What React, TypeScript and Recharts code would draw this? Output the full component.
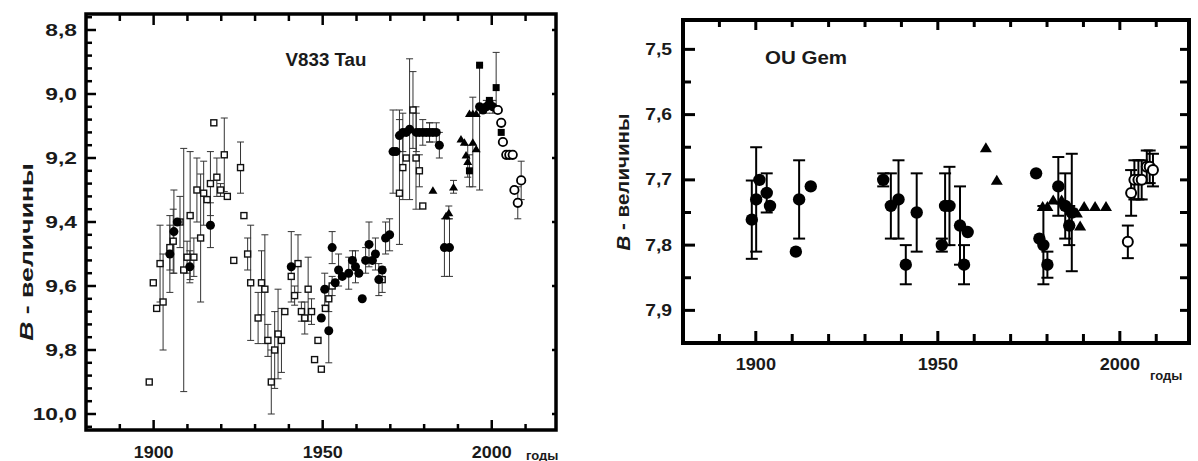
import React from 'react';
import { ScatterChart, Scatter, XAxis, YAxis, ErrorBar } from 'recharts';

type Err = number | [number, number];
type Pt = [number, number, Err];

// V833 Tau: [year, B mag, error]
const tauOpenSquares: Pt[] = [
  [1898.7, 9.9, 0], [1899.9, 9.59, 0], [1900.9, 9.67, 0], [1901.9, 9.53, 0.12],
  [1902.8, 9.65, 0.15], [1904.8, 9.48, 0.07], [1905.8, 9.46, 0.1], [1907.8, 9.4, 0.08],
  [1908.9, 9.55, 0.38], [1909.9, 9.51, 0.05], [1910.8, 9.38, 0.2], [1911.9, 9.51, 0.06],
  [1912.8, 9.3, 0.1], [1913.9, 9.45, 0.2], [1914.8, 9.31, 0.1], [1915.8, 9.33, 0],
  [1916.8, 9.28, 0.1], [1917.8, 9.09, 0], [1918.7, 9.26, 0.06], [1919.8, 9.3, 0.02],
  [1920.9, 9.19, 0.115], [1921.8, 9.32, 0], [1923.7, 9.52, 0], [1925.7, 9.23, 0.08],
  [1926.7, 9.38, 0], [1927.8, 9.5, 0.05], [1928.7, 9.59, 0.18], [1930.9, 9.7, 0.08],
  [1931.9, 9.59, 0.1], [1932.9, 9.61, 0.17], [1933.8, 9.77, 0.05], [1934.8, 9.9, 0.1],
  [1935.8, 9.8, 0.12], [1936.8, 9.75, 0.14], [1937.8, 9.77, 0.1], [1938.8, 9.68, 0],
  [1940.7, 9.57, 0], [1941.7, 9.63, 0.03], [1942.7, 9.53, 0.09], [1943.7, 9.68, 0.03],
  [1944.7, 9.7, 0.05], [1945.7, 9.61, 0.1], [1946.7, 9.68, 0.04], [1947.6, 9.83, 0],
  [1948.6, 9.77, 0], [1949.6, 9.86, 0], [1950.8, 9.67, 0], [1951.8, 9.64, 0.04],
  [1952.8, 9.6, 0.03], [1967.6, 9.58, 0.04], [1972.7, 9.31, [0.26, 0.16]],
  [1973.7, 9.23, 0.1], [1974.7, 9.2, 0], [1976.7, 9.05, 0.12], [1977.6, 9.2, 0.16],
  [1978.6, 9.24, 0.05], [1979.6, 9.35, 0], [1981.6, 9.12, 0.03],
];

const tauCircles: Pt[] = [
  [1904.8, 9.5, 0.12], [1906.0, 9.43, 0.13], [1907.0, 9.4, 0], [1910.7, 9.54, 0.05],
  [1916.8, 9.41, 0.07], [1940.7, 9.54, 0.11], [1949.6, 9.7, 0], [1950.6, 9.61, 0.05],
  [1951.8, 9.74, 0.1], [1952.8, 9.48, 0.05], [1953.7, 9.59, 0], [1954.7, 9.55, 0.05],
  [1955.8, 9.57, 0], [1957.7, 9.56, 0.05], [1958.8, 9.52, 0.03], [1959.7, 9.54, 0.05],
  [1960.7, 9.56, 0], [1961.7, 9.64, 0], [1962.7, 9.52, 0.04], [1963.7, 9.47, 0.07],
  [1964.7, 9.52, 0], [1965.6, 9.5, 0.05], [1966.6, 9.58, 0.05], [1967.6, 9.55, 0],
  [1968.6, 9.45, 0.05], [1969.8, 9.44, 0.05], [1970.8, 9.18, 0.13], [1971.7, 9.18, 0],
  [1972.7, 9.13, 0.05], [1973.7, 9.12, 0.06], [1974.7, 9.12, 0], [1975.7, 9.11, 0.22],
  [1977.7, 9.12, 0.06], [1978.6, 9.12, 0], [1979.6, 9.12, 0.04], [1980.6, 9.12, 0],
  [1981.6, 9.12, 0.03], [1982.6, 9.12, 0], [1983.6, 9.12, 0.03], [1984.5, 9.16, 0.04],
  [1986.0, 9.48, 0.09], [1987.5, 9.48, 0.09], [1996.4, 9.04, 0], [1997.4, 9.05, 0],
  [1998.4, 9.04, 0.02], [1999.3, 9.03, 0], [2000.3, 9.04, 0.02],
];

const tauTriangles: Pt[] = [
  [1982.6, 9.3, 0], [1986.5, 9.38, 0], [1987.3, 9.37, 0.02], [1988.7, 9.29, 0.02],
  [1990.9, 9.14, 0], [1991.9, 9.15, 0], [1992.4, 9.19, 0], [1992.9, 9.21, 0.05],
  [1993.4, 9.06, 0], [1994.4, 9.06, 0], [1994.4, 9.15, 0.14], [1995.4, 9.06, 0],
  [1995.4, 9.17, 0],
];

const tauFilledSquares: Pt[] = [
  [1993.4, 9.24, 0.05], [1996.4, 8.91, [0, 0.39]], [1999.3, 9.02, 0],
  [2001.3, 8.98, [0.11, 0.07]], [2002.8, 9.12, 0],
];

const tauOpenCircles: Pt[] = [
  [2001.8, 9.05, 0], [2002.8, 9.09, 0], [2003.3, 9.15, 0], [2004.3, 9.19, 0],
  [2005.2, 9.19, 0], [2006.2, 9.19, 0], [2006.7, 9.3, 0], [2007.7, 9.34, 0.05],
  [2008.7, 9.27, 0.06],
];

// OU Gem
const gemCircles: Pt[] = [
  [1898.9, 7.761, 0.06], [1900.1, 7.73, 0.08], [1901.0, 7.7, 0], [1903.0, 7.72, 0.03],
  [1903.9, 7.74, 0], [1911.0, 7.81, 0], [1911.9, 7.73, 0.06], [1915.1, 7.71, 0],
  [1935.0, 7.7, 0.01], [1937.1, 7.74, 0.05], [1939.2, 7.73, 0.06], [1941.2, 7.83, 0.03],
  [1944.2, 7.75, 0.06], [1951.1, 7.8, 0.01], [1952.0, 7.74, [0.05, 0.06]],
  [1953.2, 7.74, 0.06], [1956.1, 7.77, 0.06], [1957.2, 7.83, 0.03], [1958.2, 7.78, 0],
  [1977.0, 7.69, 0], [1977.9, 7.79, 0], [1979.0, 7.8, 0.06], [1980.1, 7.83, 0.02],
  [1983.1, 7.71, 0.045], [1985.0, 7.74, 0.05], [1986.1, 7.77, 0.03], [1986.8, 7.75, 0.09],
];

const gemTriangles: Pt[] = [
  [1963.2, 7.65, 0], [1966.2, 7.7, 0], [1978.8, 7.74, 0], [1980.1, 7.74, 0],
  [1981.7, 7.73, 0], [1984.0, 7.73, 0], [1988.2, 7.75, 0], [1989.1, 7.77, 0],
  [1990.2, 7.74, 0], [1993.2, 7.74, 0], [1996.2, 7.74, 0],
];

const gemOpenCircles: Pt[] = [
  [2002.2, 7.795, 0.025], [2003.1, 7.72, 0.035], [2004.0, 7.7, 0.03], [2005.1, 7.7, 0.03],
  [2006.0, 7.7, 0.03], [2007.4, 7.68, 0.025], [2008.2, 7.68, 0.025], [2009.1, 7.685, 0.025],
];

const yearTicks = [1890, 1900, 1910, 1920, 1930, 1940, 1950, 1960, 1970, 1980, 1990, 2000, 2010];
const yearLabels = [1900, 1950, 2000];
const tauMagLabels = [8.8, 9.0, 9.2, 9.4, 9.6, 9.8, 10.0];
const gemMagLabels = [7.5, 7.6, 7.7, 7.8, 7.9];

const tauMagTicks = Array.from({ length: 33 }, (_, i) => +(8.76 + i * 0.04).toFixed(2));
const gemMagTicks = Array.from({ length: 9 }, (_, i) => +(7.5 + i * 0.05).toFixed(2));

const rows = (pts: Pt[]) => pts.map(([year, mag, err]) => ({ year, mag, err: err || null }));

const FONT = '"Liberation Sans", Arial, sans-serif';
const INK = '#1a1a1a';

const has = (arr: number[], v: number) => arr.some((a) => Math.abs(a - v) < 1e-6);
const fmt = (v: number) => v.toFixed(1).replace('.', ',');

const SText = ({ x, y, sx = 1, size, anchor = 'middle', rotate = 0, children }: any) => (
  <g transform={`translate(${x},${y}) rotate(${rotate}) scale(${sx},1)`}>
    <text textAnchor={anchor} dominantBaseline="central" fontSize={size} fontWeight="bold" fontFamily={FONT} fill={INK}>
      {children}
    </text>
  </g>
);

// marker shapes
const OpenSquare = ({ cx, cy }: any) => (
  <rect x={cx - 3} y={cy - 3} width={6} height={6} fill="#fff" stroke="#111" strokeWidth={1.4} />
);
const Dot = (r: number) => ({ cx, cy }: any) => <circle cx={cx} cy={cy} r={r} fill="#000" />;
const Ring = (r: number, w: number) => ({ cx, cy }: any) => (
  <circle cx={cx} cy={cy} r={r} fill="#fff" stroke="#000" strokeWidth={w} />
);
const Tri = (w: number, h: number) => ({ cx, cy }: any) => (
  <polygon points={`${cx - w / 2},${cy + h / 2} ${cx + w / 2},${cy + h / 2} ${cx},${cy - h / 2}`} fill="#000" />
);
const FilledSquare = ({ cx, cy }: any) => <rect x={cx - 3.5} y={cy - 3.5} width={7} height={7} fill="#000" />;

// axis labels from the chart's own tick positions
const leftLabel = (labels: number[], gap: number, sx: number) => (p: any) => {
  const v = p.payload.value;
  return has(labels, v) ? <SText x={p.x - gap} y={p.y} sx={sx} size={16.5} anchor="end">{fmt(v)}</SText> : <g />;
};
const bottomLabel = (dy: number, sx: number) => (p: any) => {
  const v = p.payload.value;
  return has(yearLabels, v) ? <SText x={p.x} y={p.y + dy} sx={sx} size={16.5}>{v}</SText> : <g />;
};

// plot boxes (pixel frames) matching the chart margins below
const tauBox = { l: 86, r: 556, t: 14, b: 430, x0: 1880, x1: 2019, y0: 8.75, y1: 10.05 };
const gemBox = { l: 683, r: 1189, t: 20, b: 343, x0: 1880, x1: 2019, y0: 7.455, y1: 7.95 };

function Frame({ box, yTicks, yMajors, rTicks, lMaj, lMin, rLen, bMaj, bMin, tMaj, tMin, tw, aw }: any) {
  const X = (v: number) => box.l + ((v - box.x0) / (box.x1 - box.x0)) * (box.r - box.l);
  const Y = (v: number) => box.t + ((v - box.y0) / (box.y1 - box.y0)) * (box.b - box.t);
  return (
    <g stroke="#000" strokeWidth={tw}>
      {yTicks.map((v: number) => (
        <line key={`l${v}`} x1={box.l} x2={box.l + (has(yMajors, v) ? lMaj : lMin)} y1={Y(v)} y2={Y(v)} />
      ))}
      {rTicks.map((v: number) => (
        <line key={`r${v}`} x1={box.r} x2={box.r - rLen} y1={Y(v)} y2={Y(v)} />
      ))}
      {yearTicks.map((yr) => (
        <g key={`x${yr}`}>
          <line x1={X(yr)} x2={X(yr)} y1={box.b} y2={box.b - (has(yearLabels, yr) ? bMaj : bMin)} />
          <line x1={X(yr)} x2={X(yr)} y1={box.t} y2={box.t + (has(yearLabels, yr) ? tMaj : tMin)} />
        </g>
      ))}
      <rect x={box.l} y={box.t} width={box.r - box.l} height={box.b - box.t} fill="none" strokeWidth={aw} />
    </g>
  );
}

function TauPanel() {
  const eb = { dataKey: 'err', direction: 'y' as const, width: 3.5, stroke: '#333', strokeWidth: 1 };
  return (
    <ScatterChart width={560} height={461} margin={{ top: 14, right: 4, bottom: 0, left: 26 }}>
      <XAxis xAxisId="b" dataKey="year" type="number" domain={[1880, 2019]} allowDataOverflow ticks={yearTicks}
        interval={0} height={31} tickSize={0} tickMargin={0} axisLine={false} tickLine={false} tick={bottomLabel(22, 1.09)} />
      <YAxis yAxisId="l" dataKey="mag" type="number" domain={[8.75, 10.05]} allowDataOverflow reversed ticks={tauMagTicks}
        interval={0} width={60} tickSize={0} tickMargin={0} axisLine={false} tickLine={false}
        tick={leftLabel(tauMagLabels, 9, 1.38)} />
      <Scatter xAxisId="b" yAxisId="l" data={rows(tauOpenSquares)} shape={OpenSquare} isAnimationActive={false}>
        <ErrorBar {...eb} />
      </Scatter>
      <Scatter xAxisId="b" yAxisId="l" data={rows(tauCircles)} shape={Dot(4.5)} isAnimationActive={false}>
        <ErrorBar {...eb} />
      </Scatter>
      <Scatter xAxisId="b" yAxisId="l" data={rows(tauTriangles)} shape={Tri(9, 7.5)} isAnimationActive={false}>
        <ErrorBar {...eb} />
      </Scatter>
      <Scatter xAxisId="b" yAxisId="l" data={rows(tauFilledSquares)} shape={FilledSquare} isAnimationActive={false}>
        <ErrorBar {...eb} />
      </Scatter>
      <Scatter xAxisId="b" yAxisId="l" data={rows(tauOpenCircles)} shape={Ring(4.2, 1.8)} isAnimationActive={false}>
        <ErrorBar {...eb} />
      </Scatter>
    </ScatterChart>
  );
}

function GemPanel() {
  const eb = { dataKey: 'err', direction: 'y' as const, width: 6, stroke: '#000', strokeWidth: 2 };
  return (
    <ScatterChart width={638} height={461} margin={{ top: 20, right: 9, bottom: 78, left: 63 }}>
      <XAxis xAxisId="b" dataKey="year" type="number" domain={[1880, 2019]} allowDataOverflow ticks={yearTicks}
        interval={0} height={40} tickSize={0} tickMargin={0} axisLine={false} tickLine={false} tick={bottomLabel(21, 1.1)} />
      <YAxis yAxisId="l" dataKey="mag" type="number" domain={[7.455, 7.95]} allowDataOverflow reversed ticks={gemMagTicks}
        interval={0} width={60} tickSize={0} tickMargin={0} axisLine={false} tickLine={false}
        tick={leftLabel(gemMagLabels, 11, 1.17)} />
      <Scatter xAxisId="b" yAxisId="l" data={rows(gemCircles)} shape={Dot(6.2)} isAnimationActive={false}>
        <ErrorBar {...eb} />
      </Scatter>
      <Scatter xAxisId="b" yAxisId="l" data={rows(gemTriangles)} shape={Tri(12, 10)} isAnimationActive={false}>
        <ErrorBar {...eb} />
      </Scatter>
      <Scatter xAxisId="b" yAxisId="l" data={rows(gemOpenCircles)} shape={Ring(5, 2)} isAnimationActive={false}>
        <ErrorBar {...eb} />
      </Scatter>
    </ScatterChart>
  );
}

export default function App() {
  return (
    <div style={{ position: 'absolute', left: 0, top: 0, width: 1198, height: 461, background: '#fff' }}>
      <div style={{ position: 'absolute', left: 0, top: 0 }}>
        <TauPanel />
      </div>
      <div style={{ position: 'absolute', left: 560, top: 0 }}>
        <GemPanel />
      </div>
      <svg width={1198} height={461} style={{ position: 'absolute', left: 0, top: 0, pointerEvents: 'none' }}>
        <Frame box={tauBox} yTicks={tauMagTicks} yMajors={tauMagLabels} rTicks={tauMagLabels}
          lMaj={10} lMin={6} rLen={4} bMaj={10} bMin={6} tMaj={11} tMin={7} tw={2.5} aw={3.5} />
        <Frame box={gemBox} yTicks={gemMagTicks} yMajors={gemMagLabels} rTicks={gemMagTicks}
          lMaj={12} lMin={8} rLen={9} bMaj={12} bMin={9} tMaj={10} tMin={7} tw={3} aw={4} />
        <SText x={27} y={252} rotate={-90} sx={1.48} size={18}>
          <tspan fontStyle="italic">B</tspan> - величины
        </SText>
        <SText x={623} y={182} rotate={-90} sx={1.14} size={18}>
          <tspan fontStyle="italic">B</tspan> - величины
        </SText>
        <SText x={326} y={60} sx={1.04} size={18}>V833 Tau</SText>
        <SText x={806} y={58} sx={1.14} size={18}>OU Gem</SText>
        <SText x={526} y={455} size={13} anchor="start">годы</SText>
        <SText x={1150} y={375} size={13} anchor="start">годы</SText>
      </svg>
    </div>
  );
}
